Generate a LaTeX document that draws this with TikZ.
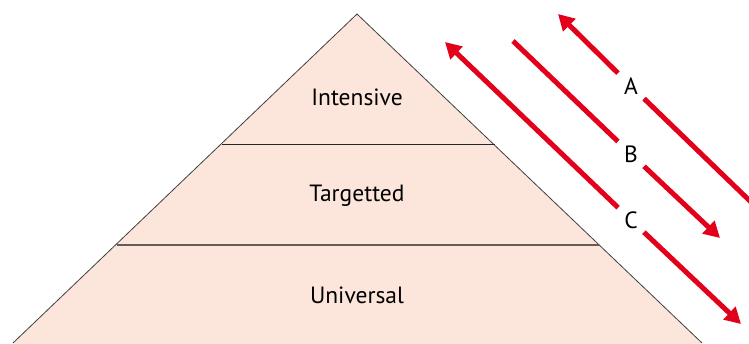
\documentclass[tikz,border=0pt]{standalone}
\usepackage{fontspec}
\setmainfont{PT Sans}
\usetikzlibrary{arrows.meta}
\definecolor{peach}{HTML}{FCE5DA}
\definecolor{tierred}{HTML}{E2001A}
\tikzset{
  tierlbl/.style={font=\fontsize{23.5}{26}\selectfont},
  flowlbl/.style={font=\fontsize{23.5}{26}\selectfont, inner sep=6pt},
  flow/.style={tierred, line width=5pt},
  flowhead/.style={flow, -{Triangle[length=16pt,width=17pt]}}
}
\begin{document}
\begin{tikzpicture}[x=1pt, y=-1pt]
        \useasboundingbox (0,0) rectangle (749,343);
        % pyramid
        \coordinate (top) at (357,14);
        \coordinate (bl) at (13,343);
        \coordinate (br) at (702,343);
        \filldraw[fill=peach, draw=black!75, line width=0.8pt] (bl) -- (top) -- (br);
        \fill[peach] (bl) -- (br) -- ++(0,1) -- ++(-689,0) -- cycle;
        \draw[black!85, line width=0.9pt] (222,144) -- (495,144);
        \draw[black!60!peach, line width=1.2pt] (117,245) -- (599,245);
        \node[tierlbl] (intensive) at (357,97) {Intensive};
        \node[tierlbl] (targetted) at (357,196) {Targetted};
        \node[tierlbl] (universal) at (357,295) {Universal};
        % arrows A, B, C
        \node[flowlbl] (A) at (631,86) {A};
        \node[flowlbl] (B) at (631,154) {B};
        \node[flowlbl] (C) at (631,220) {C};
        \coordinate (a1) at (558,14);   \coordinate (a2) at (752,203);
        \coordinate (b1) at (513,41);   \coordinate (b2) at (720,238);
        \coordinate (c1) at (445,42);   \coordinate (c2) at (741,324);
        \draw[flowhead] (A) -- (a1);
        \draw[flow] (A) -- (a2);
        \draw[flow] (B) -- (b1);
        \draw[flowhead] (B) -- (b2);
        \draw[flowhead] (C) -- (c1);
        \draw[flowhead] (C) -- (c2);
\end{tikzpicture}
\end{document}
